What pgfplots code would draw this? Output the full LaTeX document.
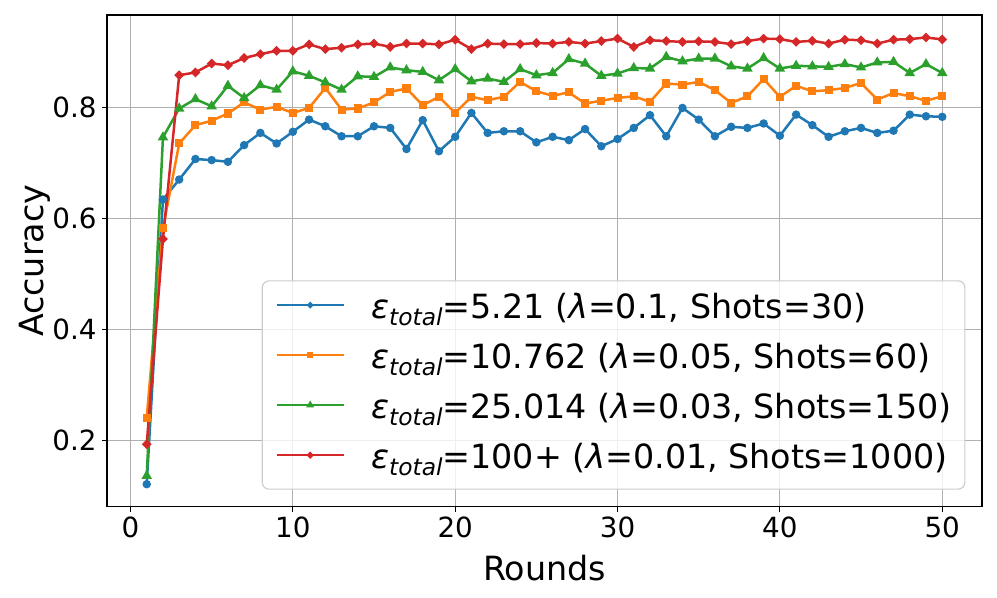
\documentclass[border=0pt]{standalone}
\usepackage{fontspec}
\setmainfont{DejaVu Sans}
\usepackage{pgfplots}
\usepackage{pgfplotstable}
\pgfplotsset{compat=1.18}

\definecolor{tabblue}{HTML}{1F77B4}
\definecolor{taborange}{HTML}{FF7F0E}
\definecolor{tabgreen}{HTML}{2CA02C}
\definecolor{tabred}{HTML}{D62728}
\definecolor{gridc}{HTML}{B0B0B0}

\newcommand{\epsT}{\textit{ε}\raisebox{-0.22em}{\fontsize{16.8}{17}\selectfont\itshape total}}

% round, eps=5.21, eps=10.762, eps=25.014, eps=100+
\pgfplotstableread{
x  b     o     g     r
1  0.121 0.241 0.136 0.193
2  0.634 0.582 0.746 0.563
3  0.670 0.735 0.798 0.858
4  0.707 0.768 0.815 0.863
5  0.705 0.776 0.802 0.879
6  0.702 0.789 0.839 0.876
7  0.732 0.809 0.817 0.889
8  0.754 0.796 0.840 0.896
9  0.735 0.801 0.832 0.902
10 0.756 0.790 0.865 0.902
11 0.778 0.799 0.857 0.9135
12 0.766 0.835 0.845 0.905
13 0.748 0.796 0.832 0.9075
14 0.748 0.798 0.856 0.9135
15 0.766 0.809 0.855 0.915
16 0.763 0.828 0.872 0.909
17 0.725 0.834 0.867 0.915
18 0.777 0.804 0.864 0.915
19 0.721 0.819 0.849 0.9135
20 0.747 0.790 0.869 0.922
21 0.790 0.819 0.847 0.905
22 0.754 0.813 0.852 0.915
23 0.757 0.819 0.846 0.914
24 0.757 0.846 0.869 0.914
25 0.737 0.829 0.858 0.916
26 0.747 0.821 0.862 0.915
27 0.741 0.827 0.887 0.918
28 0.761 0.807 0.879 0.915
29 0.730 0.812 0.857 0.9195
30 0.743 0.817 0.861 0.924
31 0.763 0.820 0.871 0.909
32 0.786 0.810 0.870 0.921
33 0.748 0.843 0.891 0.9195
34 0.799 0.841 0.883 0.918
35 0.778 0.846 0.888 0.919
36 0.748 0.831 0.888 0.918
37 0.765 0.808 0.874 0.914
38 0.763 0.820 0.870 0.9195
39 0.771 0.851 0.889 0.924
40 0.749 0.819 0.870 0.923
41 0.787 0.839 0.875 0.918
42 0.768 0.829 0.874 0.920
43 0.747 0.831 0.873 0.915
44 0.757 0.835 0.878 0.922
45 0.763 0.844 0.872 0.921
46 0.754 0.814 0.881 0.915
47 0.758 0.826 0.882 0.922
48 0.787 0.820 0.862 0.923
49 0.784 0.812 0.878 0.926
50 0.783 0.820 0.862 0.9225
}\acc

\begin{document}
\begin{tikzpicture}
  \begin{axis}[
      name=ax,
      scale only axis,
      width=630pt, height=354pt,
      xmin=-1.45, xmax=52.45,
      ymin=0.0805, ymax=0.9665,
      xtick={0,10,20,30,40,50},
      ytick={0.2,0.4,0.6,0.8},
      yticklabel style={/pgf/number format/fixed, /pgf/number format/fixed zerofill,
        /pgf/number format/precision=1, inner xsep=3.7pt},
      /pgf/number format/assume math mode=true,
      xtick pos=bottom, ytick pos=left,
      tick align=outside,
      major tick length=3.5pt,
      tick style={black, line width=0.8pt},
      axis line style={black, line width=0.8pt},
      tick label style={font=\fontsize{20}{24}\selectfont},
      grid=major,
      major grid style={gridc, line width=0.8pt},
      xlabel={Rounds},
      ylabel={Accuracy},
      label style={font=\fontsize{24}{28}\selectfont},
      xlabel style={at={(axis description cs:0.5,-0.124)}, anchor=center},
      ylabel style={at={(axis description cs:-0.0825,0.5)}, anchor=center},
      every axis plot/.append style={line width=1.8pt},
      legend image code/.code={
        \draw[mark repeat=2, mark phase=2, every mark/.append style={scale=0.6}]
          plot coordinates {(0pt,0.35em) (24pt,0.35em) (48pt,0.35em)};
      },
      legend cell align=left,
      legend style={
        at={(0.981,0.0345)}, anchor=south east,
        font=\fontsize{24}{24}\selectfont,
        draw=black!20, line width=0.8pt, rounded corners=4.8pt,
        fill=white, fill opacity=0.8, text opacity=1,
        inner xsep=9.6pt, inner ysep=9pt,
        row sep=12pt, column sep=19pt,
        nodes={inner sep=0pt, text height=18pt, text depth=6pt},
      },
    ]

    \addplot[color=tabblue, mark=*, mark size=2.1pt] table[x=x, y=b] {\acc};
    \addlegendentry{\epsT=5.21 (\textit{λ}=0.1, Shots=30)}
    \addplot[color=taborange, mark=square*, mark size=2pt] table[x=x, y=o] {\acc};
    \addlegendentry{\epsT=10.762 (\textit{λ}=0.05, Shots=60)}
    \addplot[color=tabgreen, mark=triangle*, mark size=2.6pt] table[x=x, y=g] {\acc};
    \addlegendentry{\epsT=25.014 (\textit{λ}=0.03, Shots=150)}
    \addplot[color=tabred, mark=square*, mark size=1.6pt, mark options={rotate=45}] table[x=x, y=r] {\acc};
    \addlegendentry{\epsT=100+ (\textit{λ}=0.01, Shots=1000)}

  \end{axis}
  \pgfresetboundingbox
  \path ([xshift=-77pt,yshift=-65.5pt]ax.south west) rectangle ([xshift=10.8pt,yshift=10.8pt]ax.north east);
\end{tikzpicture}
\end{document}
